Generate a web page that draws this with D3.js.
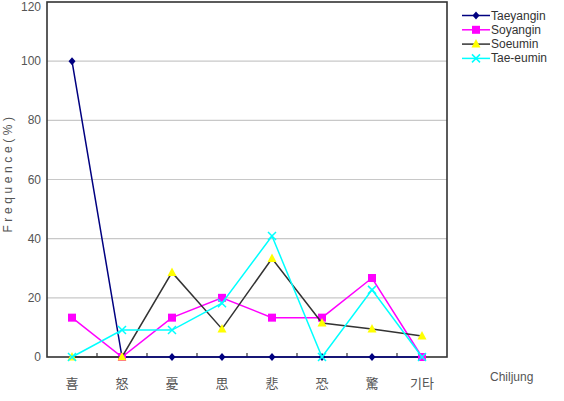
<!DOCTYPE html>
<html>
<head>
<meta charset="utf-8">
<script src="https://cdn.jsdelivr.net/npm/d3@7.9.0/dist/d3.min.js"></script>
<style>
  body { margin: 0; background: #fff; }
  svg { display: block; font-family: 'Liberation Sans Narrow', 'Liberation Sans', Arial, sans-serif; }
</style>
</head>
<body>
<svg id="chart" width="564" height="401"></svg>
<script>
// chart data
const categories = ['喜', '怒', '憂', '思', '悲', '恐', '驚', '기타'];
const taeyangin = [100, 0, 0, 0, 0, 0, 0, 0];
const soyangin = [13.3, 0, 13.3, 20, 13.3, 13.3, 26.7, 0];
const soeumin = [0, 0, 28.6, 9.5, 33.3, 11.5, 9.5, 7.1];
const taeEumin = [0, 9.1, 9.1, 18.2, 40.9, 0, 22.7, 0];
const yTicks = [0, 20, 40, 60, 80, 100, 120];

const series = [
  { name: 'Taeyangin', values: taeyangin, line: '#000080', fill: '#000080', shape: 'diamond' },
  { name: 'Soyangin', values: soyangin, line: '#ff00ff', fill: '#ff00ff', shape: 'square' },
  { name: 'Soeumin', values: soeumin, line: '#333333', fill: '#ffff00', shape: 'triangle' },
  { name: 'Tae-eumin', values: taeEumin, line: '#00ffff', fill: '#00ffff', shape: 'cross' },
];

const svg = d3.select('#chart');
const plotL = 47, plotR = 447, plotT = 2, plotB = 357;

const x = d3.scaleBand().domain(categories).range([plotL, plotR]);
const y = d3.scaleLinear().domain([0, 120]).range([plotB, plotT]);

// gridlines
svg.append('g')
  .selectAll('line')
  .data(yTicks.filter(d => d > 0 && d < 120))
  .join('line')
  .attr('x1', plotL).attr('x2', plotR)
  .attr('y1', d => y(d)).attr('y2', d => y(d))
  .attr('stroke', '#c8c8c8').attr('stroke-width', 1.2);

// frame
svg.append('rect')
  .attr('x', plotL).attr('y', plotT)
  .attr('width', plotR - plotL).attr('height', plotB - plotT)
  .attr('fill', 'none').attr('stroke', '#333').attr('stroke-width', 1.6);

// y axis labels
svg.append('g')
  .selectAll('text')
  .data(yTicks)
  .join('text')
  .attr('x', plotL - 6)
  .attr('y', d => Math.max(y(d) + 4, 11))
  .attr('text-anchor', 'end')
  .attr('font-size', 12)
  .attr('fill', '#555')
  .text(d => d);

// x tick marks between categories (pointing inward)
svg.append('g')
  .selectAll('line')
  .data(categories.slice(1))
  .join('line')
  .attr('x1', d => x(d)).attr('x2', d => x(d))
  .attr('y1', plotB).attr('y2', plotB - 4)
  .attr('stroke', '#333').attr('stroke-width', 1.2);

// x labels
svg.append('g')
  .selectAll('text')
  .data(categories)
  .join('text')
  .attr('x', d => x(d) + x.bandwidth() / 2)
  .attr('y', 388)
  .attr('text-anchor', 'middle')
  .attr('font-family', "'Noto Sans CJK KR', sans-serif")
  .attr('font-size', 13)
  .attr('fill', '#555')
  .text(d => d);

// axis titles
svg.append('text')
  .attr('transform', 'translate(12, 173) rotate(-90)')
  .attr('text-anchor', 'middle')
  .attr('font-size', 12)
  .attr('letter-spacing', 3.6)
  .attr('fill', '#555')
  .text('Frequence(%)');

svg.append('text')
  .attr('x', 490).attr('y', 381)
  .attr('font-size', 12)
  .attr('fill', '#555')
  .text('Chiljung');

function drawMarker(g, shape, fill, cx, cy) {
  if (shape === 'diamond') {
    g.append('path').attr('d', `M${cx},${cy - 4}L${cx + 3.5},${cy}L${cx},${cy + 4}L${cx - 3.5},${cy}Z`).attr('fill', fill);
  } else if (shape === 'square') {
    g.append('rect').attr('x', cx - 4).attr('y', cy - 4).attr('width', 8).attr('height', 8).attr('fill', fill);
  } else if (shape === 'triangle') {
    g.append('path').attr('d', `M${cx},${cy - 5}L${cx + 4.5},${cy + 3.5}L${cx - 4.5},${cy + 3.5}Z`).attr('fill', fill);
  } else {
    g.append('path').attr('d', `M${cx - 4},${cy - 4}L${cx + 4},${cy + 4}M${cx + 4},${cy - 4}L${cx - 4},${cy + 4}`)
      .attr('stroke', fill).attr('stroke-width', 1.5);
  }
}

const line = d3.line()
  .x((d, i) => x(categories[i]) + x.bandwidth() / 2)
  .y(d => y(d));

series.forEach(s => {
  const g = svg.append('g');
  g.append('path')
    .attr('d', line(s.values))
    .attr('fill', 'none')
    .attr('stroke', s.line)
    .attr('stroke-width', 1.5);
  s.values.forEach((v, i) => {
    drawMarker(g, s.shape, s.fill, x(categories[i]) + x.bandwidth() / 2, y(v));
  });
});

// legend
const legend = svg.append('g');
series.forEach((s, i) => {
  const ly = 15.5 + i * 14.3;
  legend.append('line')
    .attr('x1', 462).attr('x2', 490)
    .attr('y1', ly).attr('y2', ly)
    .attr('stroke', s.line).attr('stroke-width', 1.5);
  drawMarker(legend, s.shape, s.fill, 476, ly);
  legend.append('text')
    .attr('x', 491).attr('y', ly + 4)
    .attr('font-size', 12)
    .attr('fill', '#333')
    .text(s.name);
});
</script>
</body>
</html>
